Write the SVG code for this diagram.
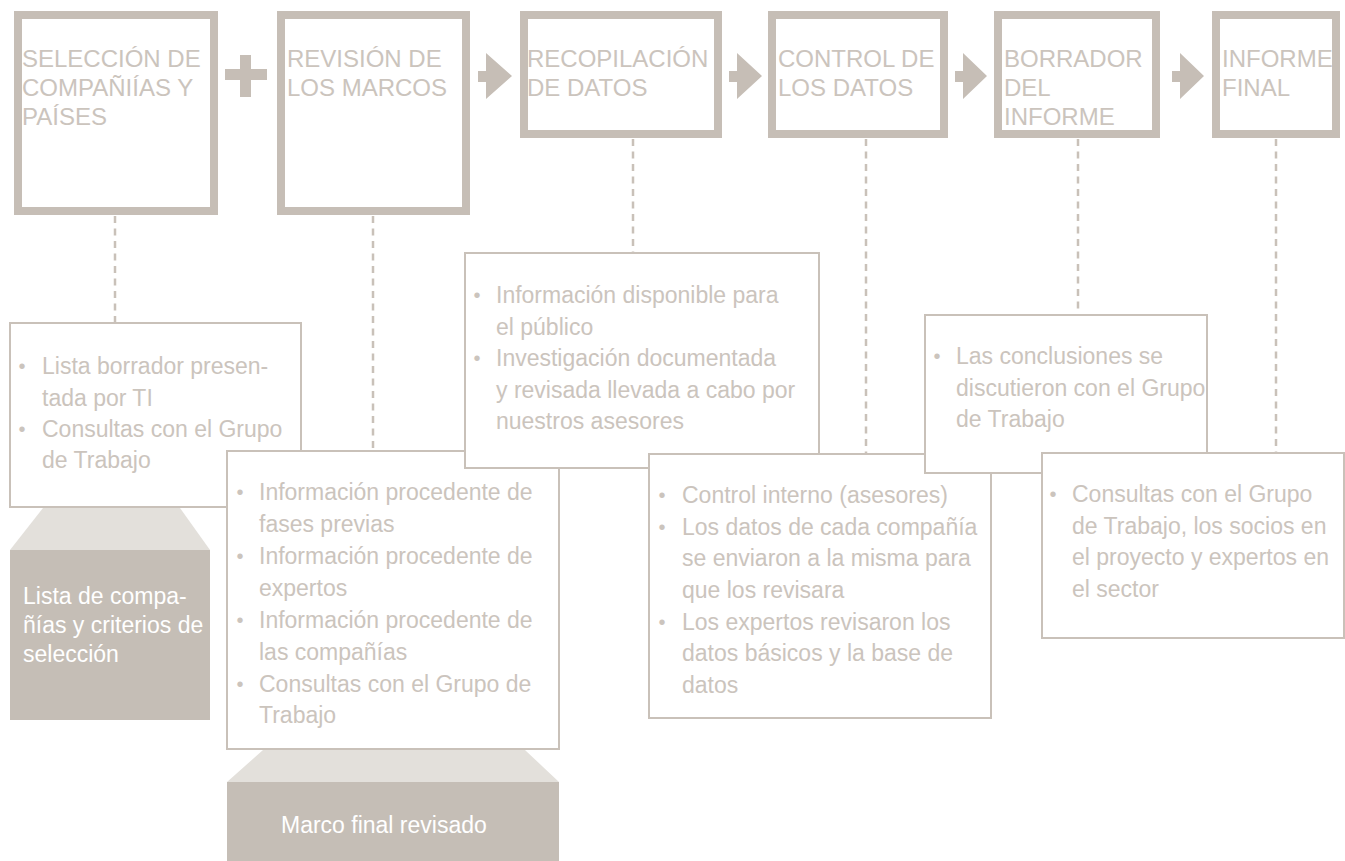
<svg xmlns="http://www.w3.org/2000/svg" width="1345" height="861" viewBox="0 0 1345 861">
<style>
.hdr{fill:none;stroke:#c6beb6;stroke-width:8}
.ht{font-family:"Liberation Sans",Arial,sans-serif;font-size:24px;fill:#cbc4bd}
.box{fill:#ffffff;stroke:#c9c1b9;stroke-width:2}
.bt{font-family:"Liberation Sans",Arial,sans-serif;font-size:23px;fill:#cbc4bd}
.bul{font-family:"Liberation Sans",Arial,sans-serif;font-size:20px;fill:#cbc4bd;text-anchor:middle}
.sym{fill:#c6beb6}
.trap{fill:#e3e0db}
.out{fill:#c5beb6}
.ot{font-family:"Liberation Sans",Arial,sans-serif;font-size:23px;fill:#ffffff}
.dash{stroke:#c9c1b9;stroke-width:2.5;stroke-dasharray:7 5.5;fill:none}
</style>

<g id="connectors">
<line class="dash" x1="115" y1="216" x2="115" y2="322"/>
<line class="dash" x1="373" y1="216" x2="373" y2="450"/>
<line class="dash" x1="633" y1="139" x2="633" y2="252"/>
<line class="dash" x1="866" y1="139" x2="866" y2="453"/>
<line class="dash" x1="1078" y1="139" x2="1078" y2="314"/>
<line class="dash" x1="1276" y1="139" x2="1276" y2="452"/>
<polygon class="sym" points="225,69 240,69 240,55 251,55 251,69 267,69 267,80 251,80 251,97 240,97 240,80 225,80"/>
<polygon class="sym" points="478,71 486,71 486,53 512,76 486,99 486,82 478,82"/>
<polygon class="sym" points="729,71 737,71 737,53 762,76 737,99 737,82 729,82"/>
<polygon class="sym" points="955,71 963,71 963,53 987,76 963,99 963,82 955,82"/>
<polygon class="sym" points="1172,71 1180,71 1180,53 1204,76 1180,99 1180,82 1172,82"/>
</g>

<g id="step1">
<rect class="hdr" x="18" y="15" width="196" height="196"/>
<text class="ht"><tspan x="22" y="67">SELECCIÓN DE</tspan><tspan x="22" y="96">COMPAÑIÍAS Y</tspan><tspan x="22" y="125">PAÍSES</tspan></text>
</g>
<g id="step2">
<rect class="hdr" x="281" y="15" width="185" height="196"/>
<text class="ht"><tspan x="287" y="67">REVISIÓN DE</tspan><tspan x="287" y="96">LOS MARCOS</tspan></text>
</g>
<g id="step3">
<rect class="hdr" x="524" y="15" width="194" height="119"/>
<text class="ht"><tspan x="527" y="67">RECOPILACIÓN</tspan><tspan x="527" y="96">DE DATOS</tspan></text>
</g>
<g id="step4">
<rect class="hdr" x="772" y="15" width="172" height="119"/>
<text class="ht"><tspan x="778" y="67">CONTROL DE</tspan><tspan x="778" y="96">LOS DATOS</tspan></text>
</g>
<g id="step5">
<rect class="hdr" x="998" y="15" width="158" height="119"/>
<text class="ht"><tspan x="1004" y="67">BORRADOR</tspan><tspan x="1004" y="96">DEL</tspan><tspan x="1004" y="125">INFORME</tspan></text>
</g>
<g id="step6">
<rect class="hdr" x="1216" y="15" width="120" height="119"/>
<text class="ht"><tspan x="1222" y="67">INFORME</tspan><tspan x="1222" y="96">FINAL</tspan></text>
</g>

<g id="detail1">
<rect class="box" x="10" y="323" width="291" height="184"/>
<text class="bul"><tspan x="22" y="373">•</tspan><tspan x="22" y="436">•</tspan></text>
<text class="bt"><tspan x="42" y="374">Lista borrador presen-</tspan><tspan x="42" y="406">tada por TI</tspan><tspan x="42" y="437">Consultas con el Grupo</tspan><tspan x="42" y="468">de Trabajo</tspan></text>
</g>
<g id="output1">
<polygon class="trap" points="43,508 180,508 210,550 10,550"/>
<rect class="out" x="10" y="550" width="200" height="170"/>
<text class="ot"><tspan x="23" y="604">Lista de compa-</tspan><tspan x="23" y="633">ñías y criterios de</tspan><tspan x="23" y="662">selección</tspan></text>
</g>

<g id="detail2">
<rect class="box" x="227" y="451" width="332" height="298"/>
<text class="bul"><tspan x="240" y="499">•</tspan><tspan x="240" y="563">•</tspan><tspan x="240" y="627">•</tspan><tspan x="240" y="691">•</tspan></text>
<text class="bt"><tspan x="259" y="500">Información procedente de</tspan><tspan x="259" y="532">fases previas</tspan><tspan x="259" y="564">Información procedente de</tspan><tspan x="259" y="596">expertos</tspan><tspan x="259" y="628">Información procedente de</tspan><tspan x="259" y="660">las compañías</tspan><tspan x="259" y="692">Consultas con el Grupo de</tspan><tspan x="259" y="723">Trabajo</tspan></text>
</g>
<g id="output2">
<polygon class="trap" points="263,750 525,750 559,782 227,782"/>
<rect class="out" x="227" y="782" width="332" height="79"/>
<text class="ot" x="281" y="833">Marco final revisado</text>
</g>

<g id="detail3">
<rect class="box" x="465" y="253" width="354" height="215"/>
<text class="bul"><tspan x="477" y="302">•</tspan><tspan x="477" y="365">•</tspan></text>
<text class="bt"><tspan x="496" y="303">Información disponible para</tspan><tspan x="496" y="334.5">el público</tspan><tspan x="496" y="366">Investigación documentada</tspan><tspan x="496" y="397.5">y revisada llevada a cabo por</tspan><tspan x="496" y="429">nuestros asesores</tspan></text>
</g>

<g id="detail4">
<rect class="box" x="649" y="454" width="342" height="264"/>
<text class="bul"><tspan x="662" y="502">•</tspan><tspan x="662" y="534">•</tspan><tspan x="662" y="629">•</tspan></text>
<text class="bt"><tspan x="682" y="503">Control interno (asesores)</tspan><tspan x="682" y="535">Los datos de cada compañía</tspan><tspan x="682" y="566">se enviaron a la misma para</tspan><tspan x="682" y="598">que los revisara</tspan><tspan x="682" y="630">Los expertos revisaron los</tspan><tspan x="682" y="661">datos básicos y la base de</tspan><tspan x="682" y="693">datos</tspan></text>
</g>

<g id="detail5">
<rect class="box" x="925" y="315" width="282" height="158"/>
<text class="bul"><tspan x="937" y="363">•</tspan></text>
<text class="bt"><tspan x="956" y="364">Las conclusiones se</tspan><tspan x="956" y="396">discutieron con el Grupo</tspan><tspan x="956" y="427">de Trabajo</tspan></text>
</g>

<g id="detail6">
<rect class="box" x="1042" y="453" width="302" height="185"/>
<text class="bul"><tspan x="1053" y="501">•</tspan></text>
<text class="bt"><tspan x="1072" y="502">Consultas con el Grupo</tspan><tspan x="1072" y="533.5">de Trabajo, los socios en</tspan><tspan x="1072" y="565">el proyecto y expertos en</tspan><tspan x="1072" y="597">el sector</tspan></text>
</g>
</svg>
